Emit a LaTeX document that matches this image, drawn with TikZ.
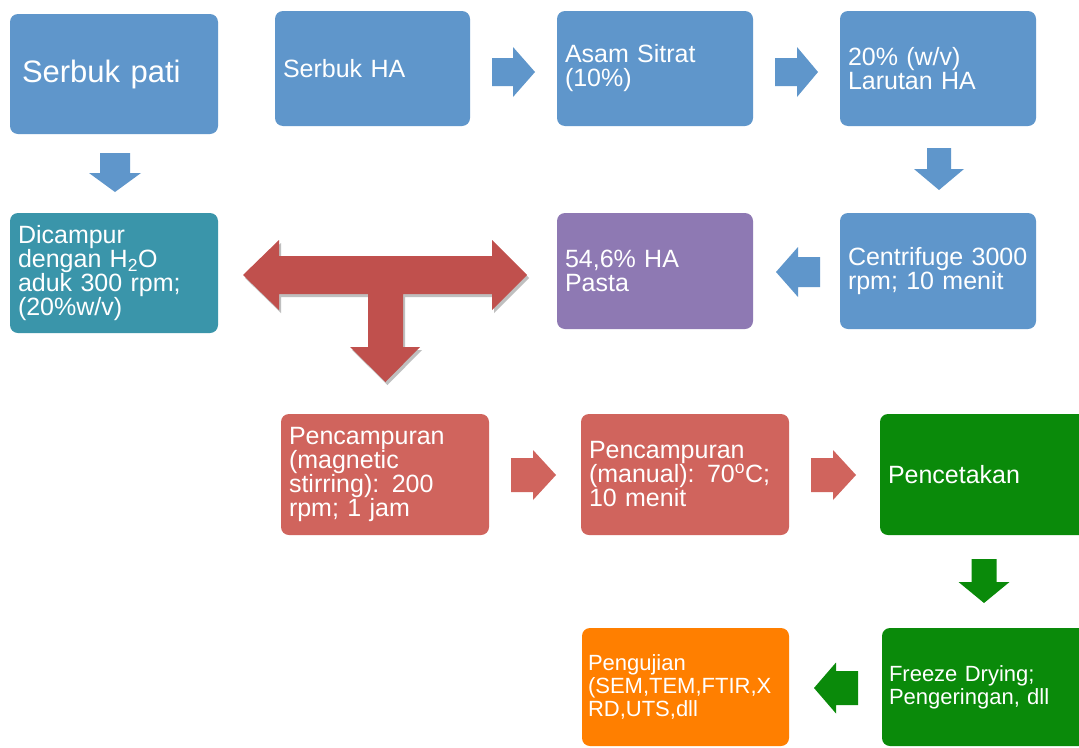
\documentclass[tikz,border=0pt]{standalone}
\usepackage{fontspec}
\setmainfont{Liberation Sans}
\definecolor{cblue}{HTML}{5F96CB}
\definecolor{cteal}{HTML}{3A95AA}
\definecolor{cpurple}{HTML}{8E79B3}
\definecolor{cred}{HTML}{D0645D}
\definecolor{cdred}{HTML}{C0504D}
\definecolor{cgreen}{HTML}{0A8A0A}
\definecolor{corange}{HTML}{FF7F00}
\tikzset{
  bx/.style={rounded corners=8pt, text=white, align=left, inner xsep=8pt, inner ysep=0pt,
    font=\fontsize{25}{24}\selectfont},
  small/.style={font=\fontsize{22}{23}\selectfont},
  blk/.style={fill=#1, draw=none}
}
\begin{document}
\begin{tikzpicture}[x=1pt,y=-1pt]
\useasboundingbox (0,0) rectangle (1079,747);
\clip (0,0) rectangle (1079,747);
\fill[white] (0,0) rectangle (1079,747);

% boxes
\node[bx, fill=cblue, text width=184pt, inner xsep=12pt, minimum height=120pt, font=\fontsize{31}{30}\selectfont] (pati) at (114,74) {Serbuk pati};
\node[bx, fill=cblue, text width=179pt, minimum height=115pt] (ha) at (372.5,68.5) {Serbuk HA};
\node[bx, fill=cblue, text width=180pt, minimum height=115pt] (asam) at (655,68.5) {Asam Sitrat\\(10\%)};
\node[bx, fill=cblue, text width=180pt, minimum height=115pt] (larutan) at (938,68.5) {20\% (w/v)\\Larutan HA};
\node[bx, fill=cteal, text width=192pt, minimum height=120pt] (dicampur) at (114,273) {Dicampur\\dengan H\textsubscript{2}O\\aduk 300 rpm;\\(20\%w/v)};
\node[bx, fill=cpurple, text width=180pt, minimum height=116pt] (pasta) at (655,271) {54,6\% HA\\Pasta};
\node[bx, fill=cblue, text width=180pt, minimum height=116pt] (centri) at (938,271) {Centrifuge 3000\\rpm; 10 menit};
\node[bx, fill=cred, text width=192pt, minimum height=121pt] (p1) at (385,474.5) {Pencampuran\\(magnetic\\stirring): 200\\rpm; 1 jam};
\node[bx, fill=cred, text width=192pt, minimum height=121pt] (p2) at (685,474.5) {Pencampuran\\(manual): 70\textsuperscript{o}C;\\10 menit};
\node[bx, fill=cgreen, text width=194pt, minimum height=121pt] (cetak) at (985,474.5) {Pencetakan};
\node[bx, small, fill=cgreen, text width=193pt, minimum height=118pt, inner xsep=7pt] (freeze) at (985.5,687) {Freeze Drying;\\Pengeringan, dll};
\node[bx, small, fill=corange, text width=195pt, minimum height=118pt, inner xsep=6pt] (uji) at (685.5,687) {Pengujian\\(SEM,TEM,FTIR,X\\RD,UTS,dll};

% blue arrows
\fill[blk=cblue] (492,58) -- (513,58) -- (513,47) -- (535,72) -- (513,97) -- (513,86) -- (492,86) -- cycle;
\fill[blk=cblue] (775,58) -- (797,58) -- (797,47) -- (818,72) -- (797,97) -- (797,86) -- (775,86) -- cycle;
\fill[blk=cblue] (100,153) -- (100,173) -- (89,173) -- (115,192) -- (141,173) -- (130,173) -- (130,153) -- cycle;
\fill[blk=cblue] (927,148) -- (927,169) -- (914,169) -- (939,190) -- (964,169) -- (951,169) -- (951,148) -- cycle;
\fill[blk=cblue] (820,257) -- (798,257) -- (798,247) -- (776,272) -- (798,297) -- (798,287) -- (820,287) -- cycle;

% red T arrow with shadow
\fill[black!25] (245,278) -- (281,243) -- (281,259) -- (494,259) -- (494,243) -- (529,278) -- (494,313) -- (494,297) -- (405,297) -- (405,350) -- (422,350) -- (387.5,385) -- (352,350) -- (370,350) -- (370,297) -- (281,297) -- (281,313) -- cycle;
\fill[blk=cdred] (243,275) -- (279,240) -- (279,256) -- (492,256) -- (492,240) -- (527,275) -- (492,310) -- (492,294) -- (403,294) -- (403,347) -- (420,347) -- (385.5,382) -- (350,347) -- (368,347) -- (368,294) -- (279,294) -- (279,310) -- cycle;

% red row arrows
\fill[blk=cred] (511,458) -- (533,458) -- (533,450) -- (556,475) -- (533,500) -- (533,492) -- (511,492) -- cycle;
\fill[blk=cred] (811,458) -- (833,458) -- (833,450) -- (856,475) -- (833,500) -- (833,492) -- (811,492) -- cycle;

% green arrows
\fill[blk=cgreen] (971.5,559) -- (971.5,582) -- (958.5,582) -- (984,603) -- (1009.5,582) -- (996.5,582) -- (996.5,559) -- cycle;
\fill[blk=cgreen] (858,671) -- (836,671) -- (836,662.5) -- (814,688) -- (836,713.5) -- (836,705) -- (858,705) -- cycle;
\end{tikzpicture}
\end{document}
